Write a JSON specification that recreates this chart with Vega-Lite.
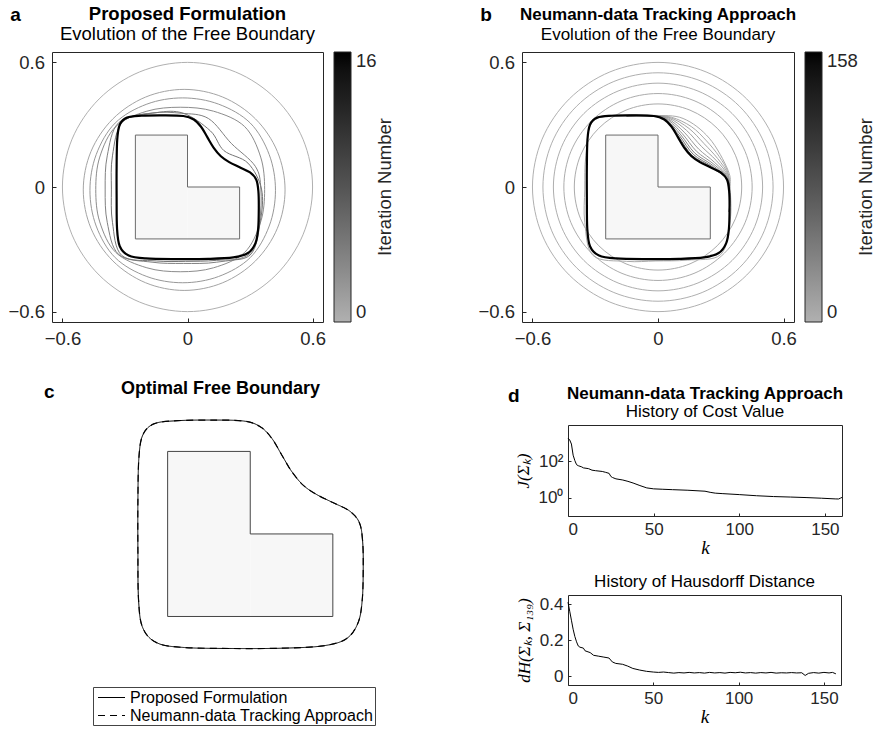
{
"$schema":"https://vega.github.io/schema/vega-lite/v6.json",
"background":"white",
"padding":{"left":7,"top":4,"right":0,"bottom":0},
"config":{
 "font":"Liberation Sans",
 "view":{"stroke":"#262626","strokeWidth":1},
 "axis":{"grid":false,"domain":false,"tickColor":"#262626","labelColor":"#262626","labelFont":"Liberation Sans","tickSize":-4,"titleColor":"#000"},
 "title":{"color":"#000","subtitleColor":"#000","font":"Liberation Sans","subtitleFont":"Liberation Sans","frame":"group"},
 "legend":{"labelFont":"Liberation Sans","titleFont":"Liberation Sans"}
},
"datasets":{
 "Lfill":[{"x":-0.25,"x2":0,"y":-0.25,"y2":0.25},{"x":0,"x2":0.25,"y":-0.25,"y2":0}],
 "Lline":[{"i":0,"x":-0.25,"y":-0.25},{"i":1,"x":0.25,"y":-0.25},{"i":2,"x":0.25,"y":0},{"i":3,"x":0,"y":0},{"i":4,"x":0,"y":0.25},{"i":5,"x":-0.25,"y":0.25}],
 "final":[
  {"i":1,"x":0.342,"y":-0.10},{"i":2,"x":0.340,"y":-0.02},{"i":3,"x":0.330,"y":0.035},{"i":4,"x":0.300,"y":0.070},{"i":5,"x":0.250,"y":0.095},{"i":6,"x":0.200,"y":0.120},{"i":7,"x":0.160,"y":0.148},{"i":8,"x":0.125,"y":0.190},{"i":9,"x":0.095,"y":0.240},{"i":10,"x":0.065,"y":0.290},{"i":11,"x":0.030,"y":0.325},{"i":12,"x":-0.020,"y":0.342},{"i":13,"x":-0.120,"y":0.345},{"i":14,"x":-0.220,"y":0.343},{"i":15,"x":-0.290,"y":0.334},{"i":16,"x":-0.325,"y":0.300},{"i":17,"x":-0.337,"y":0.230},{"i":18,"x":-0.340,"y":0.100},{"i":19,"x":-0.340,"y":-0.050},{"i":20,"x":-0.338,"y":-0.200},{"i":21,"x":-0.325,"y":-0.285},{"i":22,"x":-0.282,"y":-0.330},{"i":23,"x":-0.200,"y":-0.344},{"i":24,"x":-0.050,"y":-0.347},{"i":25,"x":0.100,"y":-0.346},{"i":26,"x":0.220,"y":-0.339},{"i":27,"x":0.290,"y":-0.318},{"i":28,"x":0.326,"y":-0.270},{"i":29,"x":0.339,"y":-0.200}],
 "ringsA":[
  {"k":0,"i":0,"x":0.6,"y":0},{"k":0,"i":1,"x":0.554,"y":0.23},{"k":0,"i":2,"x":0.424,"y":0.424},{"k":0,"i":3,"x":0.23,"y":0.554},{"k":0,"i":4,"x":0,"y":0.6},{"k":0,"i":5,"x":-0.23,"y":0.554},{"k":0,"i":6,"x":-0.424,"y":0.424},{"k":0,"i":7,"x":-0.554,"y":0.23},{"k":0,"i":8,"x":-0.6,"y":0},{"k":0,"i":9,"x":-0.554,"y":-0.23},{"k":0,"i":10,"x":-0.424,"y":-0.424},{"k":0,"i":11,"x":-0.23,"y":-0.554},{"k":0,"i":12,"x":0,"y":-0.6},{"k":0,"i":13,"x":0.23,"y":-0.554},{"k":0,"i":14,"x":0.424,"y":-0.424},{"k":0,"i":15,"x":0.554,"y":-0.23},
  {"k":1,"i":0,"x":0.468,"y":-0.014},{"k":1,"i":1,"x":0.431,"y":0.171},{"k":1,"i":2,"x":0.326,"y":0.328},{"k":1,"i":3,"x":0.169,"y":0.433},{"k":1,"i":4,"x":-0.016,"y":0.470},{"k":1,"i":5,"x":-0.201,"y":0.433},{"k":1,"i":6,"x":-0.358,"y":0.328},{"k":1,"i":7,"x":-0.463,"y":0.171},{"k":1,"i":8,"x":-0.500,"y":-0.014},{"k":1,"i":9,"x":-0.463,"y":-0.199},{"k":1,"i":10,"x":-0.358,"y":-0.356},{"k":1,"i":11,"x":-0.201,"y":-0.461},{"k":1,"i":12,"x":-0.016,"y":-0.498},{"k":1,"i":13,"x":0.169,"y":-0.461},{"k":1,"i":14,"x":0.326,"y":-0.356},{"k":1,"i":15,"x":0.431,"y":-0.199},
  {"k":2,"i":0,"x":0.422,"y":-0.016},{"k":2,"i":1,"x":0.392,"y":0.156},{"k":2,"i":2,"x":0.301,"y":0.308},{"k":2,"i":3,"x":0.149,"y":0.399},{"k":2,"i":4,"x":-0.023,"y":0.429},{"k":2,"i":5,"x":-0.195,"y":0.399},{"k":2,"i":6,"x":-0.347,"y":0.308},{"k":2,"i":7,"x":-0.438,"y":0.156},{"k":2,"i":8,"x":-0.468,"y":-0.016},{"k":2,"i":9,"x":-0.438,"y":-0.188},{"k":2,"i":10,"x":-0.347,"y":-0.340},{"k":2,"i":11,"x":-0.195,"y":-0.431},{"k":2,"i":12,"x":-0.023,"y":-0.461},{"k":2,"i":13,"x":0.149,"y":-0.431},{"k":2,"i":14,"x":0.301,"y":-0.340},{"k":2,"i":15,"x":0.392,"y":-0.188},
  {"k":3,"i":0,"x":0.370,"y":-0.012},{"k":3,"i":1,"x":0.351,"y":0.144},{"k":3,"i":2,"x":0.274,"y":0.291},{"k":3,"i":3,"x":0.125,"y":0.365},{"k":3,"i":4,"x":-0.035,"y":0.384},{"k":3,"i":5,"x":-0.195,"y":0.365},{"k":3,"i":6,"x":-0.344,"y":0.291},{"k":3,"i":7,"x":-0.421,"y":0.144},{"k":3,"i":8,"x":-0.440,"y":-0.012},{"k":3,"i":9,"x":-0.421,"y":-0.168},{"k":3,"i":10,"x":-0.344,"y":-0.315},{"k":3,"i":11,"x":-0.195,"y":-0.389},{"k":3,"i":12,"x":-0.035,"y":-0.408},{"k":3,"i":13,"x":0.125,"y":-0.389},{"k":3,"i":14,"x":0.274,"y":-0.315},{"k":3,"i":15,"x":0.351,"y":-0.168},
  {"k":4,"i":0,"x":0.352,"y":-0.01},{"k":4,"i":1,"x":0.325,"y":0.10},{"k":4,"i":2,"x":0.21,"y":0.21},{"k":4,"i":3,"x":0.10,"y":0.33},{"k":4,"i":4,"x":-0.03,"y":0.355},{"k":4,"i":5,"x":-0.17,"y":0.356},{"k":4,"i":6,"x":-0.33,"y":0.31},{"k":4,"i":7,"x":-0.385,"y":0.15},{"k":4,"i":8,"x":-0.395,"y":-0.01},{"k":4,"i":9,"x":-0.385,"y":-0.17},{"k":4,"i":10,"x":-0.33,"y":-0.325},{"k":4,"i":11,"x":-0.17,"y":-0.362},{"k":4,"i":12,"x":-0.02,"y":-0.368},{"k":4,"i":13,"x":0.14,"y":-0.362},{"k":4,"i":14,"x":0.30,"y":-0.32},{"k":4,"i":15,"x":0.345,"y":-0.17},
  {"k":5,"i":0,"x":0.355,"y":-0.01},{"k":5,"i":1,"x":0.29,"y":0.115},{"k":5,"i":2,"x":0.175,"y":0.175},{"k":5,"i":3,"x":0.11,"y":0.27},{"k":5,"i":4,"x":-0.02,"y":0.355},{"k":5,"i":5,"x":-0.15,"y":0.358},{"k":5,"i":6,"x":-0.31,"y":0.315},{"k":5,"i":7,"x":-0.36,"y":0.15},{"k":5,"i":8,"x":-0.365,"y":-0.01},{"k":5,"i":9,"x":-0.36,"y":-0.17},{"k":5,"i":10,"x":-0.315,"y":-0.33},{"k":5,"i":11,"x":-0.15,"y":-0.356},{"k":5,"i":12,"x":-0.01,"y":-0.358},{"k":5,"i":13,"x":0.14,"y":-0.353},{"k":5,"i":14,"x":0.30,"y":-0.328},{"k":5,"i":15,"x":0.35,"y":-0.16}],
 "ringsB":[
  {"k":0,"i":0,"x":0.6,"y":0},{"k":0,"i":1,"x":0.554,"y":0.23},{"k":0,"i":2,"x":0.424,"y":0.424},{"k":0,"i":3,"x":0.23,"y":0.554},{"k":0,"i":4,"x":0,"y":0.6},{"k":0,"i":5,"x":-0.23,"y":0.554},{"k":0,"i":6,"x":-0.424,"y":0.424},{"k":0,"i":7,"x":-0.554,"y":0.23},{"k":0,"i":8,"x":-0.6,"y":0},{"k":0,"i":9,"x":-0.554,"y":-0.23},{"k":0,"i":10,"x":-0.424,"y":-0.424},{"k":0,"i":11,"x":-0.23,"y":-0.554},{"k":0,"i":12,"x":0,"y":-0.6},{"k":0,"i":13,"x":0.23,"y":-0.554},{"k":0,"i":14,"x":0.424,"y":-0.424},{"k":0,"i":15,"x":0.554,"y":-0.23},
  {"k":1,"i":0,"x":0.55,"y":0},{"k":1,"i":1,"x":0.508,"y":0.211},{"k":1,"i":2,"x":0.389,"y":0.389},{"k":1,"i":3,"x":0.211,"y":0.508},{"k":1,"i":4,"x":0,"y":0.55},{"k":1,"i":5,"x":-0.211,"y":0.508},{"k":1,"i":6,"x":-0.389,"y":0.389},{"k":1,"i":7,"x":-0.508,"y":0.211},{"k":1,"i":8,"x":-0.55,"y":0},{"k":1,"i":9,"x":-0.508,"y":-0.211},{"k":1,"i":10,"x":-0.389,"y":-0.389},{"k":1,"i":11,"x":-0.211,"y":-0.508},{"k":1,"i":12,"x":0,"y":-0.55},{"k":1,"i":13,"x":0.211,"y":-0.508},{"k":1,"i":14,"x":0.389,"y":-0.389},{"k":1,"i":15,"x":0.508,"y":-0.211},
  {"k":2,"i":0,"x":0.5,"y":0},{"k":2,"i":1,"x":0.462,"y":0.191},{"k":2,"i":2,"x":0.354,"y":0.354},{"k":2,"i":3,"x":0.191,"y":0.462},{"k":2,"i":4,"x":0,"y":0.5},{"k":2,"i":5,"x":-0.191,"y":0.462},{"k":2,"i":6,"x":-0.354,"y":0.354},{"k":2,"i":7,"x":-0.462,"y":0.191},{"k":2,"i":8,"x":-0.5,"y":0},{"k":2,"i":9,"x":-0.462,"y":-0.191},{"k":2,"i":10,"x":-0.354,"y":-0.354},{"k":2,"i":11,"x":-0.191,"y":-0.462},{"k":2,"i":12,"x":0,"y":-0.5},{"k":2,"i":13,"x":0.191,"y":-0.462},{"k":2,"i":14,"x":0.354,"y":-0.354},{"k":2,"i":15,"x":0.462,"y":-0.191},
  {"k":3,"i":0,"x":0.45,"y":0},{"k":3,"i":1,"x":0.416,"y":0.172},{"k":3,"i":2,"x":0.318,"y":0.318},{"k":3,"i":3,"x":0.172,"y":0.416},{"k":3,"i":4,"x":0,"y":0.45},{"k":3,"i":5,"x":-0.172,"y":0.416},{"k":3,"i":6,"x":-0.318,"y":0.318},{"k":3,"i":7,"x":-0.416,"y":0.172},{"k":3,"i":8,"x":-0.45,"y":0},{"k":3,"i":9,"x":-0.416,"y":-0.172},{"k":3,"i":10,"x":-0.318,"y":-0.318},{"k":3,"i":11,"x":-0.172,"y":-0.416},{"k":3,"i":12,"x":0,"y":-0.45},{"k":3,"i":13,"x":0.172,"y":-0.416},{"k":3,"i":14,"x":0.318,"y":-0.318},{"k":3,"i":15,"x":0.416,"y":-0.172},
  {"k":4,"i":0,"x":0.4,"y":0},{"k":4,"i":1,"x":0.37,"y":0.153},{"k":4,"i":2,"x":0.283,"y":0.283},{"k":4,"i":3,"x":0.153,"y":0.37},{"k":4,"i":4,"x":0,"y":0.4},{"k":4,"i":5,"x":-0.153,"y":0.37},{"k":4,"i":6,"x":-0.283,"y":0.283},{"k":4,"i":7,"x":-0.37,"y":0.153},{"k":4,"i":8,"x":-0.4,"y":0},{"k":4,"i":9,"x":-0.37,"y":-0.153},{"k":4,"i":10,"x":-0.283,"y":-0.283},{"k":4,"i":11,"x":-0.153,"y":-0.37},{"k":4,"i":12,"x":0,"y":-0.4},{"k":4,"i":13,"x":0.153,"y":-0.37},{"k":4,"i":14,"x":0.283,"y":-0.283},{"k":4,"i":15,"x":0.37,"y":-0.153},
  {"k":5,"i":0,"x":0.345,"y":-0.01},{"k":5,"i":1,"x":0.335,"y":0.08},{"k":5,"i":2,"x":0.245,"y":0.235},{"k":5,"i":3,"x":0.12,"y":0.33},{"k":5,"i":4,"x":-0.02,"y":0.345},{"k":5,"i":5,"x":-0.17,"y":0.347},{"k":5,"i":6,"x":-0.31,"y":0.32},{"k":5,"i":7,"x":-0.345,"y":0.15},{"k":5,"i":8,"x":-0.35,"y":-0.01},{"k":5,"i":9,"x":-0.35,"y":-0.17},{"k":5,"i":10,"x":-0.31,"y":-0.33},{"k":5,"i":11,"x":-0.15,"y":-0.358},{"k":5,"i":12,"x":-0.01,"y":-0.356},{"k":5,"i":13,"x":0.14,"y":-0.352},{"k":5,"i":14,"x":0.30,"y":-0.325},{"k":5,"i":15,"x":0.345,"y":-0.16}],
 "fansB":[
  {"k":6,"i":0,"x":-0.15,"y":0.343},{"k":6,"i":1,"x":-0.03,"y":0.343},{"k":6,"i":2,"x":0.064,"y":0.336},{"k":6,"i":3,"x":0.159,"y":0.291},{"k":6,"i":4,"x":0.232,"y":0.222},{"k":6,"i":5,"x":0.293,"y":0.146},{"k":6,"i":6,"x":0.336,"y":0.065},{"k":6,"i":7,"x":0.342,"y":-0.03},{"k":6,"i":8,"x":0.341,"y":-0.12},
  {"k":9,"i":0,"x":-0.15,"y":0.343},{"k":9,"i":1,"x":-0.03,"y":0.343},{"k":9,"i":2,"x":0.058,"y":0.334},{"k":9,"i":3,"x":0.148,"y":0.282},{"k":9,"i":4,"x":0.220,"y":0.209},{"k":9,"i":5,"x":0.285,"y":0.137},{"k":9,"i":6,"x":0.335,"y":0.060},{"k":9,"i":7,"x":0.342,"y":-0.03},{"k":9,"i":8,"x":0.341,"y":-0.12},
  {"k":13,"i":0,"x":-0.15,"y":0.343},{"k":13,"i":1,"x":-0.03,"y":0.343},{"k":13,"i":2,"x":0.052,"y":0.332},{"k":13,"i":3,"x":0.136,"y":0.273},{"k":13,"i":4,"x":0.207,"y":0.196},{"k":13,"i":5,"x":0.278,"y":0.128},{"k":13,"i":6,"x":0.334,"y":0.054},{"k":13,"i":7,"x":0.342,"y":-0.03},{"k":13,"i":8,"x":0.341,"y":-0.12},
  {"k":18,"i":0,"x":-0.15,"y":0.343},{"k":18,"i":1,"x":-0.03,"y":0.343},{"k":18,"i":2,"x":0.046,"y":0.330},{"k":18,"i":3,"x":0.125,"y":0.264},{"k":18,"i":4,"x":0.194,"y":0.183},{"k":18,"i":5,"x":0.270,"y":0.119},{"k":18,"i":6,"x":0.333,"y":0.049},{"k":18,"i":7,"x":0.342,"y":-0.03},{"k":18,"i":8,"x":0.341,"y":-0.12},
  {"k":25,"i":0,"x":-0.15,"y":0.343},{"k":25,"i":1,"x":-0.03,"y":0.343},{"k":25,"i":2,"x":0.041,"y":0.329},{"k":25,"i":3,"x":0.116,"y":0.257},{"k":25,"i":4,"x":0.184,"y":0.172},{"k":25,"i":5,"x":0.264,"y":0.112},{"k":25,"i":6,"x":0.332,"y":0.045},{"k":25,"i":7,"x":0.342,"y":-0.03},{"k":25,"i":8,"x":0.341,"y":-0.12},
  {"k":35,"i":0,"x":-0.15,"y":0.343},{"k":35,"i":1,"x":-0.03,"y":0.343},{"k":35,"i":2,"x":0.037,"y":0.327},{"k":35,"i":3,"x":0.109,"y":0.251},{"k":35,"i":4,"x":0.175,"y":0.164},{"k":35,"i":5,"x":0.259,"y":0.106},{"k":35,"i":6,"x":0.331,"y":0.041},{"k":35,"i":7,"x":0.342,"y":-0.03},{"k":35,"i":8,"x":0.341,"y":-0.12},
  {"k":50,"i":0,"x":-0.15,"y":0.343},{"k":50,"i":1,"x":-0.03,"y":0.343},{"k":50,"i":2,"x":0.034,"y":0.326},{"k":50,"i":3,"x":0.103,"y":0.246},{"k":50,"i":4,"x":0.169,"y":0.157},{"k":50,"i":5,"x":0.255,"y":0.101},{"k":50,"i":6,"x":0.331,"y":0.039},{"k":50,"i":7,"x":0.342,"y":-0.03},{"k":50,"i":8,"x":0.341,"y":-0.12},
  {"k":80,"i":0,"x":-0.15,"y":0.343},{"k":80,"i":1,"x":-0.03,"y":0.343},{"k":80,"i":2,"x":0.032,"y":0.3255},{"k":80,"i":3,"x":0.098,"y":0.242},{"k":80,"i":4,"x":0.163,"y":0.152},{"k":80,"i":5,"x":0.252,"y":0.097},{"k":80,"i":6,"x":0.330,"y":0.036},{"k":80,"i":7,"x":0.342,"y":-0.03},{"k":80,"i":8,"x":0.341,"y":-0.12}],
 "J":[{"k":0,"J":1900},{"k":1,"J":1500},{"k":2,"J":900},{"k":3,"J":220},{"k":4,"J":110},{"k":5,"J":66},{"k":6,"J":58},{"k":8,"J":50},{"k":9,"J":44},{"k":12,"J":40},{"k":14,"J":33},{"k":16,"J":31},{"k":20,"J":28},{"k":22,"J":25},{"k":24,"J":22},{"k":25,"J":15},{"k":26,"J":13},{"k":28,"J":11},{"k":32,"J":9.5},{"k":35,"J":8},{"k":38,"J":6.5},{"k":42,"J":4.7},{"k":46,"J":3.5},{"k":50,"J":3.1},{"k":55,"J":2.95},{"k":61,"J":2.8},{"k":70,"J":2.6},{"k":80,"J":2.3},{"k":83,"J":2.0},{"k":86,"J":1.8},{"k":90,"J":1.7},{"k":100,"J":1.5},{"k":110,"J":1.3},{"k":120,"J":1.17},{"k":130,"J":1.1},{"k":139,"J":1.03},{"k":148,"J":0.95},{"k":156,"J":0.87},{"k":158,"J":0.86},{"k":159,"J":0.95},{"k":160,"J":1.05}],
 "H":[{"k":0,"H":0.41},{"k":1,"H":0.36},{"k":2,"H":0.31},{"k":3,"H":0.26},{"k":4,"H":0.22},{"k":5,"H":0.19},{"k":6,"H":0.167},{"k":7,"H":0.16},{"k":9,"H":0.155},{"k":10,"H":0.14},{"k":13,"H":0.13},{"k":15,"H":0.115},{"k":18,"H":0.11},{"k":21,"H":0.105},{"k":24,"H":0.1},{"k":26,"H":0.078},{"k":28,"H":0.07},{"k":32,"H":0.065},{"k":35,"H":0.055},{"k":38,"H":0.042},{"k":42,"H":0.033},{"k":46,"H":0.026},{"k":50,"H":0.022},{"k":53,"H":0.02},{"k":56,"H":0.022},{"k":59,"H":0.019},{"k":62,"H":0.016},{"k":65,"H":0.019},{"k":68,"H":0.017},{"k":71,"H":0.02},{"k":74,"H":0.017},{"k":77,"H":0.019},{"k":80,"H":0.016},{"k":83,"H":0.02},{"k":86,"H":0.017},{"k":89,"H":0.019},{"k":92,"H":0.016},{"k":95,"H":0.02},{"k":98,"H":0.018},{"k":101,"H":0.021},{"k":104,"H":0.017},{"k":107,"H":0.019},{"k":110,"H":0.016},{"k":113,"H":0.019},{"k":116,"H":0.017},{"k":119,"H":0.02},{"k":122,"H":0.016},{"k":125,"H":0.018},{"k":128,"H":0.017},{"k":131,"H":0.019},{"k":134,"H":0.017},{"k":137,"H":0.018},{"k":139,"H":0.003},{"k":141,"H":0.015},{"k":144,"H":0.019},{"k":147,"H":0.016},{"k":150,"H":0.02},{"k":153,"H":0.017},{"k":155,"H":0.02},{"k":157,"H":0.012}]
},
"spacing":81,
"resolve":{"scale":{"color":"independent","strokeDash":"independent"},"legend":{"color":"independent"}},
"hconcat":[
 {"vconcat":[
  {"width":271,"height":270,
   "title":{"text":"Proposed Formulation","subtitle":"Evolution of the Free Boundary","fontSize":18.5,"subtitleFontSize":18.5,"fontWeight":"bold","anchor":"middle","offset":-38,"subtitlePadding":2},
   "layer":[
    {"data":{"name":"Lfill"},"mark":{"type":"rect","fill":"#f7f7f7"},
     "encoding":{"x":{"field":"x","type":"quantitative","scale":{"domain":[-0.65,0.65],"nice":false,"zero":false},"axis":{"values":[-0.6,0,0.6],"format":".1~f","title":null,"labelFontSize":18.5,"labelPadding":11}},"x2":{"field":"x2"},
      "y":{"field":"y","type":"quantitative","scale":{"domain":[-0.65,0.65],"nice":false,"zero":false},"axis":{"values":[-0.6,0,0.6],"format":".1~f","title":null,"labelFontSize":18.5,"labelPadding":11.5}},"y2":{"field":"y2"}}},
    {"data":{"name":"Lline"},"mark":{"type":"line","interpolate":"linear-closed","stroke":"#6b6b6b","strokeWidth":1},
     "encoding":{"x":{"field":"x","type":"quantitative"},"y":{"field":"y","type":"quantitative"},"order":{"field":"i"}}},
    {"data":{"name":"ringsA"},"mark":{"type":"line","interpolate":"cardinal-closed","strokeWidth":1},
     "encoding":{"x":{"field":"x","type":"quantitative"},"y":{"field":"y","type":"quantitative"},"order":{"field":"i"},"detail":{"field":"k"},
      "color":{"field":"k","type":"quantitative","scale":{"domain":[0,16],"range":["#b0b0b0","#000000"]},
       "legend":{"orient":"none","legendX":282,"legendY":0,"direction":"vertical","gradientLength":270,"gradientThickness":17,"values":[0,16],"title":"Iteration Number","titleOrient":"right","titleAnchor":"middle","titlePadding":18,"titleFontSize":18.5,"titleFontWeight":"normal","titleColor":"#262626","labelFontSize":18.5,"labelColor":"#262626","labelOffset":5,"gradientStrokeColor":"#262626","gradientStrokeWidth":1,"encode":{"title":{"update":{"angle":{"value":270}}}}}}}},
    {"data":{"name":"final"},"mark":{"type":"line","interpolate":"cardinal-closed","stroke":"#000","strokeWidth":2.2},
     "encoding":{"x":{"field":"x","type":"quantitative"},"y":{"field":"y","type":"quantitative"},"order":{"field":"i"}}},
    {"data":{"values":[{"label":"a"}]},"mark":{"type":"text","fontSize":19,"fontWeight":"bold","align":"left","baseline":"alphabetic","color":"#000"},
     "encoding":{"x":{"datum":-0.85,"type":"quantitative"},"y":{"datum":0.80,"type":"quantitative"},"text":{"field":"label"}}}
   ]},
  {"width":337,"height":241,"view":{"stroke":null},
   "title":{"text":"Optimal Free Boundary","fontSize":18,"fontWeight":"bold","anchor":"middle","offset":-14.7},
   "layer":[
    {"data":{"name":"Lfill"},"mark":{"type":"rect","fill":"#f7f7f7"},
     "encoding":{"x":{"field":"x","type":"quantitative","scale":{"domain":[-0.6,0.42],"nice":false,"zero":false},"axis":null},"x2":{"field":"x2"},
      "y":{"field":"y","type":"quantitative","scale":{"domain":[-0.4,0.33],"nice":false,"zero":false},"axis":null},"y2":{"field":"y2"}}},
    {"data":{"name":"Lline"},"mark":{"type":"line","interpolate":"linear-closed","stroke":"#444","strokeWidth":1},
     "encoding":{"x":{"field":"x","type":"quantitative"},"y":{"field":"y","type":"quantitative"},"order":{"field":"i"}}},
    {"data":{"name":"final"},"mark":{"type":"line","interpolate":"cardinal-closed","stroke":"#000","strokeWidth":1},
     "encoding":{"x":{"field":"x","type":"quantitative"},"y":{"field":"y","type":"quantitative"},"order":{"field":"i"},
      "strokeDash":{"datum":"Proposed Formulation","type":"nominal","scale":{"domain":["Proposed Formulation","Neumann-data Tracking Approach"],"range":[[1,0],[7,5]]},
       "legend":{"orient":"none","legendX":41,"legendY":262,"title":null,"strokeColor":"#444","padding":1,"labelFontSize":16,"labelColor":"#000","labelLimit":400,"symbolType":"M-1.5,0L1.5,0","symbolSize":324,"symbolOffset":8,"symbolStrokeColor":"#000","symbolStrokeWidth":1,"rowPadding":0,"labelOffset":9}}}},
    {"data":{"name":"final"},"mark":{"type":"line","interpolate":"cardinal-closed","stroke":"#000","strokeWidth":1.2},
     "encoding":{"x":{"field":"x","type":"quantitative"},"y":{"field":"y","type":"quantitative"},"order":{"field":"i"},
      "strokeDash":{"datum":"Neumann-data Tracking Approach","type":"nominal"}}},
    {"data":{"values":[{"label":"c"}]},"mark":{"type":"text","fontSize":19,"fontWeight":"bold","align":"left","baseline":"alphabetic","color":"#000"},
     "encoding":{"x":{"datum":-0.624,"type":"quantitative"},"y":{"datum":0.412,"type":"quantitative"},"text":{"field":"label"}}}
   ]}
 ],"spacing":103,"bounds":"flush","resolve":{"scale":{"color":"independent","strokeDash":"independent"},"legend":{"color":"independent"}}},
 {"vconcat":[
  {"width":272,"height":270,
   "title":{"text":"Neumann-data Tracking Approach","subtitle":"Evolution of the Free Boundary","fontSize":17,"subtitleFontSize":17,"fontWeight":"bold","anchor":"middle","offset":-38,"subtitlePadding":3},
   "layer":[
    {"data":{"name":"Lfill"},"mark":{"type":"rect","fill":"#f7f7f7"},
     "encoding":{"x":{"field":"x","type":"quantitative","scale":{"domain":[-0.65,0.65],"nice":false,"zero":false},"axis":{"values":[-0.6,0,0.6],"format":".1~f","title":null,"labelFontSize":18.5,"labelPadding":11}},"x2":{"field":"x2"},
      "y":{"field":"y","type":"quantitative","scale":{"domain":[-0.65,0.65],"nice":false,"zero":false},"axis":{"values":[-0.6,0,0.6],"format":".1~f","title":null,"labelFontSize":18.5,"labelPadding":11.5}},"y2":{"field":"y2"}}},
    {"data":{"name":"Lline"},"mark":{"type":"line","interpolate":"linear-closed","stroke":"#6b6b6b","strokeWidth":1},
     "encoding":{"x":{"field":"x","type":"quantitative"},"y":{"field":"y","type":"quantitative"},"order":{"field":"i"}}},
    {"data":{"name":"ringsB"},"mark":{"type":"line","interpolate":"cardinal-closed","strokeWidth":1},
     "encoding":{"x":{"field":"x","type":"quantitative"},"y":{"field":"y","type":"quantitative"},"order":{"field":"i"},"detail":{"field":"k"},
      "color":{"field":"k","type":"quantitative","scale":{"domain":[0,158],"range":["#b0b0b0","#000000"]},
       "legend":{"orient":"none","legendX":283,"legendY":0,"direction":"vertical","gradientLength":270,"gradientThickness":17,"values":[0,158],"title":"Iteration Number","titleOrient":"right","titleAnchor":"middle","titlePadding":18,"titleFontSize":18.5,"titleFontWeight":"normal","titleColor":"#262626","labelFontSize":18.5,"labelColor":"#262626","labelOffset":5,"gradientStrokeColor":"#262626","gradientStrokeWidth":1,"encode":{"title":{"update":{"angle":{"value":270}}}}}}}},
    {"data":{"name":"fansB"},"mark":{"type":"line","interpolate":"cardinal","strokeWidth":1},
     "encoding":{"x":{"field":"x","type":"quantitative"},"y":{"field":"y","type":"quantitative"},"order":{"field":"i"},"detail":{"field":"k"},
      "color":{"field":"k","type":"quantitative"}}},
    {"data":{"name":"final"},"mark":{"type":"line","interpolate":"cardinal-closed","stroke":"#000","strokeWidth":2.2},
     "encoding":{"x":{"field":"x","type":"quantitative"},"y":{"field":"y","type":"quantitative"},"order":{"field":"i"}}},
    {"data":{"values":[{"label":"b"}]},"mark":{"type":"text","fontSize":19,"fontWeight":"bold","align":"left","baseline":"alphabetic","color":"#000"},
     "encoding":{"x":{"datum":-0.85,"type":"quantitative"},"y":{"datum":0.80,"type":"quantitative"},"text":{"field":"label"}}}
   ]},
  {"hconcat":[
   {"width":1,"height":1,"view":{"stroke":null},"data":{"values":[]},"mark":"point"},
   {"vconcat":[
    {"width":274,"height":91,
     "title":{"text":"Neumann-data Tracking Approach","subtitle":"History of Cost Value","fontSize":17,"subtitleFontSize":17,"fontWeight":"bold","anchor":"middle","offset":-34,"subtitlePadding":1},
     "layer":[
      {"data":{"name":"J"},"mark":{"type":"line","stroke":"#000","strokeWidth":1},
       "encoding":{"x":{"field":"k","type":"quantitative","scale":{"domain":[0,160],"nice":false,"zero":false},"axis":{"values":[0,50,100,150],"title":"k","titleFont":"Liberation Serif","titleFontStyle":"italic","titleFontWeight":"normal","titleFontSize":19,"labelFontSize":17,"labelPadding":8,"titlePadding":1,"tickSize":-3}},
        "y":{"field":"J","type":"quantitative","scale":{"type":"log","domain":[0.1,10000],"nice":false},"axis":{"values":[1,100],"labelExpr":"datum.value == 100 ? '10²' : '10⁰'","title":"J(Σₖ)","titleFont":"Liberation Serif","titleFontStyle":"italic","titleFontWeight":"normal","titleFontSize":17,"labelFontSize":17,"labelPadding":8,"titlePadding":6,"tickSize":-3}}}},
      {"data":{"values":[{"label":"d"}]},"mark":{"type":"text","fontSize":19,"fontWeight":"bold","align":"left","baseline":"alphabetic","color":"#000"},
       "encoding":{"x":{"datum":-35,"type":"quantitative"},"y":{"datum":190000,"type":"quantitative"},"text":{"field":"label"}}}
     ]},
    {"width":273,"height":90,
     "title":{"text":"History of Hausdorff Distance","fontSize":17,"fontWeight":"normal","anchor":"middle","offset":4},
     "data":{"name":"H"},
     "mark":{"type":"line","stroke":"#000","strokeWidth":1},
     "encoding":{"x":{"field":"k","type":"quantitative","scale":{"domain":[0,160],"nice":false,"zero":false},"axis":{"values":[0,50,100,150],"title":"k","titleFont":"Liberation Serif","titleFontStyle":"italic","titleFontWeight":"normal","titleFontSize":19,"labelFontSize":17,"labelPadding":8,"titlePadding":1,"tickSize":-3}},
      "y":{"field":"H","type":"quantitative","scale":{"domain":[-0.05,0.45],"nice":false,"zero":false},"axis":{"values":[0,0.2,0.4],"format":".1~f","title":"dH(Σₖ, Σ₁₃₉)","titleFont":"Liberation Serif","titleFontStyle":"italic","titleFontWeight":"normal","titleFontSize":17,"labelFontSize":17,"labelPadding":8,"titlePadding":6,"tickSize":-3}}}}
   ],"spacing":79,"bounds":"flush"}
  ],"spacing":45,"bounds":"flush"}
 ],"spacing":103,"bounds":"flush","resolve":{"scale":{"color":"independent"},"legend":{"color":"independent"}}}
]
}
